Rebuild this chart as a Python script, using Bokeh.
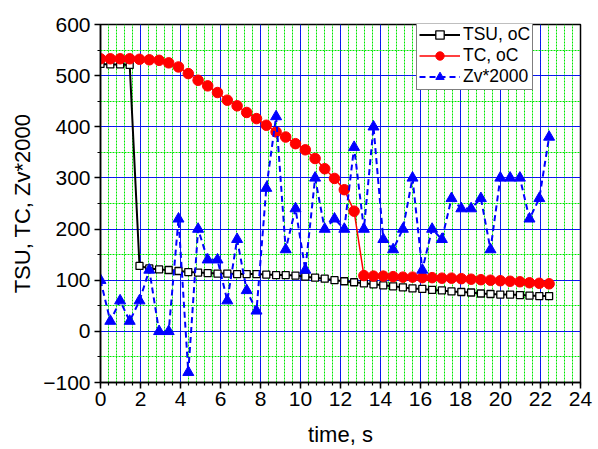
from bokeh.plotting import figure
from bokeh.models import SingleIntervalTicker, Range1d, Legend, LegendItem
from bokeh.embed import file_html
from bokeh.resources import INLINE

time_s = [0.0, 0.49, 0.98, 1.46, 1.95, 2.44, 2.93, 3.41, 3.90, 4.39, 4.88, 5.36,
          5.85, 6.34, 6.83, 7.31, 7.80, 8.29, 8.78, 9.26, 9.75, 10.24, 10.73, 11.21,
          11.70, 12.19, 12.68, 13.17, 13.65, 14.14, 14.63, 15.12, 15.60, 16.09, 16.58,
          17.07, 17.55, 18.04, 18.53, 19.02, 19.50, 19.99, 20.48, 20.97, 21.45, 21.94, 22.43]

tsu = [523, 522, 522, 521, 128, 123, 121, 120, 118, 116, 115, 114, 113, 113, 112, 112,
       112, 111, 110, 110, 109, 107, 105, 103, 100, 98, 96, 94, 92, 90, 88, 86, 84, 83,
       81, 80, 78, 77, 76, 74, 73, 72, 72, 71, 70, 69, 69]

tc = [533, 533, 533, 533, 532, 531, 530, 525, 517, 504, 491, 480, 467, 452, 441, 428,
      416, 403, 390, 380, 367, 355, 338, 318, 299, 277, 235, 109, 108, 108, 107, 106,
      106, 105, 105, 104, 104, 103, 102, 101, 100, 99, 98, 97, 95, 94, 93]

zv2000 = [100, 20, 60, 20, 60, 120, 0, 0, 220, -80, 200, 140, 140, 60, 180, 80, 40,
          280, 420, 160, 240, 120, 300, 200, 220, 200, 360, 200, 400, 180, 160, 200,
          300, 120, 200, 180, 260, 240, 240, 260, 160, 300, 300, 300, 220, 260, 380]

series_names = ["TSU, oC", "TC, oC", "Zv*2000"]
x_label = "time, s"
y_label = "TSU, TC, Zv*2000"

FONT = "Liberation Sans"

p = figure(width=598, height=449, output_backend="svg", toolbar_location=None,
           x_range=Range1d(0, 24), y_range=Range1d(-100, 600),
           min_border_left=100, min_border_right=18, min_border_top=24,
           min_border_bottom=66)

p.outline_line_color = "black"
p.outline_line_width = 1.5

# axes
p.xaxis.ticker = SingleIntervalTicker(interval=2, num_minor_ticks=5)
p.yaxis.ticker = SingleIntervalTicker(interval=100, num_minor_ticks=2)
for ax in (p.xaxis, p.yaxis):
    ax.axis_line_color = "black"
    ax.axis_line_width = 1.5
    ax.major_tick_line_color = "black"
    ax.major_tick_line_width = 1.5
    ax.minor_tick_line_color = "black"
    ax.minor_tick_line_width = 1.2
    ax.major_tick_in = 0
    ax.major_tick_out = 6
    ax.minor_tick_in = 0
    ax.minor_tick_out = 3
    ax.major_label_text_font = FONT
    ax.major_label_text_font_size = "21px"
    ax.major_label_text_color = "black"
    ax.axis_label_text_font = FONT
    ax.axis_label_text_font_size = "22px"
    ax.axis_label_text_font_style = "normal"
    ax.axis_label_text_color = "black"
p.xaxis.major_label_standoff = 3
p.yaxis.major_label_standoff = 4
p.xaxis.axis_label = x_label
p.yaxis.axis_label = y_label
p.xaxis.axis_label_standoff = 13
p.yaxis.axis_label_standoff = 5

# grids
p.xgrid.ticker = SingleIntervalTicker(interval=2, num_minor_ticks=5)
p.ygrid.ticker = SingleIntervalTicker(interval=100, num_minor_ticks=2)
for g in (p.xgrid, p.ygrid):
    g.grid_line_color = "#0000ff"
    g.grid_line_width = 1
    g.grid_line_alpha = 0.9
    g.minor_grid_line_color = "#00e600"
    g.minor_grid_line_dash = "2 1"
    g.minor_grid_line_width = 1

# series
r1l = p.line(time_s, tsu, line_color="black", line_width=2)
r1m = p.scatter(time_s, tsu, marker="square", size=7, fill_color="white",
                line_color="black", line_width=1.3)
r2l = p.line(time_s, tc, line_color="#ff0000", line_width=1.5)
r2m = p.scatter(time_s, tc, marker="circle", size=10.5, fill_color="#ff0000",
                line_color="#ff0000")
r3l = p.line(time_s, zv2000, line_color="#0000ff", line_width=2, line_dash="6 4")
r3m = p.scatter(time_s, zv2000, marker="triangle", size=11, fill_color="#0000ff",
                line_color="#0000ff")

legend = Legend(items=[
    LegendItem(label=series_names[0], renderers=[r1l, r1m]),
    LegendItem(label=series_names[1], renderers=[r2l, r2m]),
    LegendItem(label=series_names[2], renderers=[r3l, r3m]),
], location=(316, 292))
legend.margin = 0
legend.padding = 2
legend.spacing = 0
legend.glyph_width = 41
legend.glyph_height = 21
legend.label_height = 21
legend.label_standoff = 3
legend.label_text_font = FONT
legend.label_text_font_size = "17.5px"
legend.label_text_color = "black"
legend.border_line_color = "black"
legend.border_line_width = 1
legend.background_fill_color = "white"
legend.background_fill_alpha = 1
p.add_layout(legend, "center")

open("out.html", "w").write(file_html(p, INLINE))
